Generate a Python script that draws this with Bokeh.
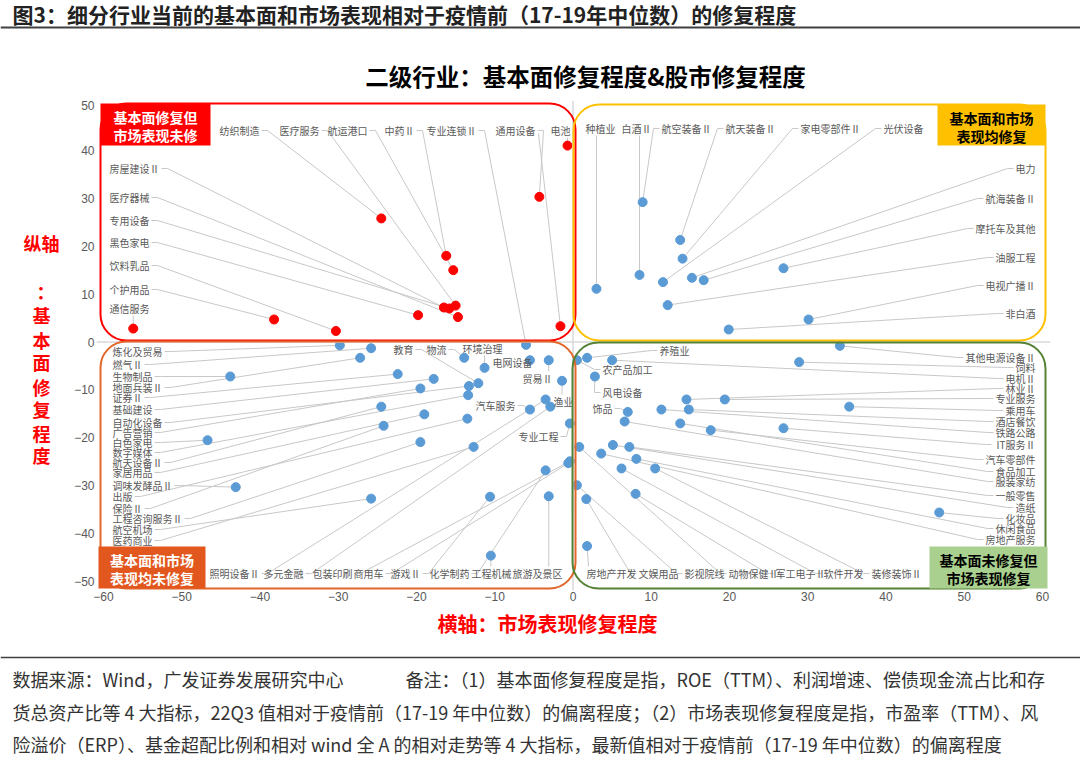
from bokeh.plotting import figure
from bokeh.layouts import column, row
from bokeh.models import ColumnDataSource, Label, BoxAnnotation, Span, FixedTicker
from bokeh.embed import file_html
from bokeh.resources import INLINE
from bokeh.core.properties import value

# ---------------- data ----------------
# top-left quadrant: fundamentals repaired, market not (red)
TL_NAMES = ["纺织制造", "医疗服务", "航运港口", "中药Ⅱ", "通用设备", "电池", "",
            "房屋建设Ⅱ", "医疗器械", "专用设备", "黑色家电", "饮料乳品", "个护用品", "通信服务"]
TL_X = [-24.5, -15.0, -15.3, -16.2, -4.3, -0.7, -1.6,
        -16.5, -14.7, -15.8, -19.8, -30.3, -38.2, -56.2]
TL_Y = [25.8, 7.6, 15.0, 18.0, 30.3, 41.0, 3.3,
        7.2, 5.2, 7.0, 5.6, 2.3, 4.7, 2.8]

# top-right quadrant: both repaired
TR_NAMES = ["种植业", "白酒Ⅱ", "航空装备Ⅱ", "航天装备Ⅱ", "家电零部件Ⅱ", "光伏设备",
            "电力", "航海装备Ⅱ", "摩托车及其他", "油服工程", "电视广播Ⅱ", "非白酒"]
TR_X = [3.0, 8.5, 8.9, 13.7, 14.0, 11.5, 15.2, 16.7, 26.9, 12.1, 30.1, 19.9]
TR_Y = [11.1, 14.0, 29.2, 21.3, 17.4, 12.5, 13.4, 12.9, 15.4, 7.7, 4.7, 2.6]

# bottom-left quadrant: neither repaired
BL_NAMES = ["炼化及贸易", "燃气Ⅱ", "生物制品", "地面兵装Ⅱ", "证券Ⅱ", "基础建设", "自动化设备",
            "广告营销", "白色家电", "数字媒体", "航天设备Ⅱ", "家居用品", "调味发酵品Ⅱ", "出版",
            "保险Ⅱ", "工程咨询服务Ⅱ", "航空机场", "医药商业",
            "教育", "物流", "环境治理", "电网设备", "贸易Ⅱ", "渔业", "汽车服务", "专业工程",
            "专业连锁Ⅱ",
            "照明设备Ⅱ", "多元金融", "包装印刷", "商用车", "游戏Ⅱ", "化学制药", "工程机械", "旅游及景区"]
BL_X = [-29.8, -25.8, -43.8, -27.2, -22.4, -17.8, -13.3,
        -19.5, -46.7, -13.4, -24.5, -19.0, -43.1, -13.5,
        -24.2, -19.5, -25.8, -12.7,
        -12.1, -13.9, -11.3, -5.5, -3.1, -1.4, -5.5, -0.4,
        -6.0,
        -3.5, -2.9, -0.4, -0.6, -10.6, -3.5, -10.5, -3.1]
BL_Y = [-0.7, -1.3, -7.2, -3.3, -6.7, -7.7, -9.2,
        -9.7, -20.5, -11.1, -13.5, -15.1, -30.3, -16.0,
        -17.5, -20.9, -32.7, -21.9,
        -8.6, -3.3, -5.4, -3.8, -3.8, -8.1, -14.1, -17.0,
        -0.6,
        -12.0, -13.5, -24.9, -25.3, -32.3, -26.8, -44.6, -32.2]

# bottom-right quadrant: market repaired, fundamentals not
BR_NAMES = ["养殖业", "农产品加工", "风电设备", "饰品",
            "其他电源设备Ⅱ", "饲料", "电机Ⅱ", "林业Ⅱ", "专业服务", "乘用车", "酒店餐饮", "铁路公路",
            "IT服务Ⅱ", "汽车零部件", "食品加工", "服装家纺", "一般零售", "造纸", "化妆品", "休闲食品",
            "房地产服务",
            "房地产开发", "文娱用品", "影视院线", "动物保健Ⅱ", "军工电子Ⅱ", "软件开发", "装修装饰Ⅱ"]
BR_X = [1.8, 0.5, 2.8, 7.0,
        34.1, 28.9, 5.0, 14.5, 19.4, 35.3, 14.8, 11.3,
        26.9, 17.6, 13.7, 6.6, 7.2, 5.1, 46.8, 8.1,
        3.6,
        1.8, 1.7, 0.5, 0.8, 8.0, 6.2, 10.5]
BR_Y = [-3.3, -3.8, -7.2, -14.6,
        -0.8, -4.2, -3.8, -12.0, -12.0, -13.5, -14.1, -14.1,
        -18.0, -18.4, -17.0, -16.6, -21.9, -21.5, -35.6, -24.4,
        -23.3,
        -42.6, -32.8, -29.9, -21.9, -31.7, -26.4, -26.4]

X_TICKS = [-60, -50, -40, -30, -20, -10, 0, 10, 20, 30, 40, 50, 60]
Y_TICKS = [-50, -40, -30, -20, -10, 0, 10, 20, 30, 40, 50]

HEADER = "图3：细分行业当前的基本面和市场表现相对于疫情前（17-19年中位数）的修复程度"
TITLE = "二级行业：基本面修复程度&股市修复程度"
X_TITLE = "横轴：市场表现修复程度"
Y_TITLE = ["纵轴", "：", "基", "本", "面", "修", "复", "程", "度"]
SOURCE = "数据来源：Wind，广发证券发展研究中心"
NOTE = ["备注：（1）基本面修复程度是指，ROE（TTM）、利润增速、偿债现金流占比和存",
        "货总资产比等 4 大指标，22Q3 值相对于疫情前（17-19 年中位数）的偏离程度；（2）市场表现修复程度是指，市盈率（TTM）、风",
        "险溢价（ERP）、基金超配比例和相对 wind 全 A 的相对走势等 4 大指标，最新值相对于疫情前（17-19 年中位数）的偏离程度"]
TAGS = [["基本面修复但", "市场表现未修"], ["基本面和市场", "表现均修复"],
        ["基本面和市场", "表现均未修复"], ["基本面未修复但", "市场表现修复"]]

# ---------------- layout (page pixels) ----------------
PW, PH = 1080, 758
FL, FT, FR, FB = 103, 102, 1042, 581          # where -60..60 / 50..-50 fall on the page
X0, X1, Y0, Y1 = -60, 60, -50, 50
PXX = (FR - FL) / (X1 - X0)
PXY = (FB - FT) / (Y1 - Y0)
TOP_H, MID_B, LEFT_W = 100, 606, 62
MX0, MX1, MY1 = 96, 1050, 590                  # main frame on the page


def dx(X):
    return X0 + (X - FL) / PXX


def dy(Y):
    return Y1 - (Y - FT) / PXY


LBL = {}
for n, X in [("纺织制造", 239), ("医疗服务", 299), ("航运港口", 347), ("中药Ⅱ", 399),
             ("专业连锁Ⅱ", 451), ("通用设备", 515), ("电池", 560)]:
    LBL[n] = (X, 130, "center")
LBL[""] = (538, 133, "none")
for n, Y in [("房屋建设Ⅱ", 168), ("医疗器械", 197), ("专用设备", 220), ("黑色家电", 242),
             ("饮料乳品", 265), ("个护用品", 289), ("通信服务", 308)]:
    LBL[n] = (109, Y, "left")
for n, X in [("种植业", 600), ("白酒Ⅱ", 636), ("航空装备Ⅱ", 686), ("航天装备Ⅱ", 750),
             ("家电零部件Ⅱ", 830), ("光伏设备", 903)]:
    LBL[n] = (X, 128, "center")
for n, Y in [("电力", 168), ("航海装备Ⅱ", 198), ("摩托车及其他", 228), ("油服工程", 257),
             ("电视广播Ⅱ", 285), ("非白酒", 313)]:
    LBL[n] = (1035, Y, "right")
for n, Y in [("炼化及贸易", 351), ("燃气Ⅱ", 364), ("生物制品", 376), ("地面兵装Ⅱ", 387),
             ("证券Ⅱ", 397), ("基础建设", 409), ("自动化设备", 422), ("广告营销", 432),
             ("白色家电", 442), ("数字媒体", 452), ("航天设备Ⅱ", 462), ("家居用品", 472),
             ("调味发酵品Ⅱ", 485), ("出版", 496), ("保险Ⅱ", 508), ("工程咨询服务Ⅱ", 518),
             ("航空机场", 529), ("医药商业", 540)]:
    LBL[n] = (112, Y, "left")
for n, X, Y in [("教育", 403, 349), ("物流", 436, 349), ("环境治理", 482, 348), ("电网设备", 512, 362),
                ("贸易Ⅱ", 537, 378), ("汽车服务", 495, 405), ("渔业", 563, 401), ("专业工程", 538, 436),
                ("养殖业", 674, 350), ("农产品加工", 627, 369), ("风电设备", 622, 392), ("饰品", 602, 408)]:
    LBL[n] = (X, Y, "center")
for n, X in [("照明设备Ⅱ", 234), ("多元金融", 283), ("包装印刷", 332), ("商用车", 368),
             ("游戏Ⅱ", 405), ("化学制药", 449), ("工程机械", 491), ("旅游及景区", 537),
             ("房地产开发", 611), ("文娱用品", 658), ("影视院线", 704), ("动物保健Ⅱ", 753),
             ("军工电子Ⅱ", 800), ("软件开发", 843), ("装修装饰Ⅱ", 896)]:
    LBL[n] = (X, 573, "center")
for n, Y in [("其他电源设备Ⅱ", 357), ("饲料", 367), ("电机Ⅱ", 378), ("林业Ⅱ", 388), ("专业服务", 398),
             ("乘用车", 410), ("酒店餐饮", 421), ("铁路公路", 432), ("IT服务Ⅱ", 444), ("汽车零部件", 459),
             ("食品加工", 471), ("服装家纺", 481), ("一般零售", 495), ("造纸", 507), ("化妆品", 518),
             ("休闲食品", 528), ("房地产服务", 539)]:
    LBL[n] = (1035, Y, "right")

LFS = 10  # point-label font px
CJK = "Noto Sans CJK SC"


def tw(s):
    return sum(LFS if ord(c) > 0x2000 else LFS * 0.6 for c in s)


def blank(w, h, xr, yr):
    f = figure(width=w, height=h, x_range=xr, y_range=yr, output_backend="svg",
               toolbar_location=None, x_axis_location=None, y_axis_location=None,
               min_border=0)
    f.outline_line_color = None
    f.grid.visible = False
    f.background_fill_color = "white"
    f.border_fill_color = "white"
    return f


def lab(f, X, Y, s, size, color, align="left", bold=True):
    f.add_layout(Label(x=X, y=Y, text=s, text_align=align, text_baseline="middle",
                       text_font=CJK, text_font_style="bold" if bold else "normal",
                       text_font_size=size, text_color=color))


# ---------------- top strip: header + chart title ----------------
top = blank(PW, TOP_H, (0, PW), (TOP_H, 0))
lab(top, 12, 13, HEADER, "21px", "#222222")
top.add_layout(Span(location=27, dimension="width", line_color="#404040", line_width=2))
lab(top, 585, 75, TITLE, "23.5px", "#000000", "center")

# ---------------- left strip: vertical y title ----------------
left = blank(LEFT_W, MID_B - TOP_H, (0, LEFT_W), (MID_B, TOP_H))
for s, Y, off in zip(Y_TITLE, [247, 297, 322, 347, 370, 396, 419, 443, 466], [0, 4, 0, 0, 0, 0, 0, 0, 0]):
    lab(left, 41 + off, Y, s, "18px", "#FF0000", "center")

# ---------------- main scatter ----------------
p = figure(width=PW - LEFT_W, height=MID_B - TOP_H, x_range=(dx(MX0), dx(MX1)), y_range=(dy(MY1), dy(TOP_H)),
           output_backend="svg", toolbar_location=None,
           min_border_left=MX0 - LEFT_W, min_border_right=PW - MX1,
           min_border_top=0, min_border_bottom=MID_B - MY1)
p.outline_line_color = None
p.grid.visible = False
p.background_fill_color = "white"
p.border_fill_color = "white"
for ax, ticks in ((p.xaxis, X_TICKS), (p.yaxis, Y_TICKS)):
    ax.ticker = FixedTicker(ticks=ticks)
    ax.axis_line_color = None
    ax.major_tick_line_color = None
    ax.minor_tick_line_color = None
    ax.major_tick_out = 0
    ax.major_tick_in = 0
    ax.minor_tick_out = 0
    ax.major_label_text_font = "Liberation Sans"
    ax.major_label_text_font_size = "12px"
    ax.major_label_text_color = "#595959"
p.xaxis.major_label_standoff = 1
p.yaxis.major_label_standoff = 2

p.add_layout(Span(location=0, dimension="width", line_color="#D9D9D9", line_width=1.5))
p.add_layout(Span(location=0, dimension="height", line_color="#D9D9D9", line_width=1.5))

xs_l, ys_l = [], []
groups = {"left": ([], [], []), "right": ([], [], []), "center": ([], [], [])}
all_pts = [(TL_NAMES, TL_X, TL_Y, "#FF0000"), (TR_NAMES, TR_X, TR_Y, "#5B9BD5"),
           (BL_NAMES, BL_X, BL_Y, "#5B9BD5"), (BR_NAMES, BR_X, BR_Y, "#5B9BD5")]
for names, xv, yv, col in all_pts:
    for n, x, y in zip(names, xv, yv):
        X, Y, al = LBL[n]
        PX = FL + (x - X0) * PXX
        PY = FT + (Y1 - y) * PXY
        if al == "none":
            xs_l.append([dx(X), x])
            ys_l.append([dy(Y), y])
            continue
        w = tw(n)
        x0 = X if al == "left" else (X - w if al == "right" else X - w / 2)
        x1 = x0 + w
        if PX > x1 + 3:
            s, t = (x1 + 2, Y), (x1 + 8, Y)
        elif PX < x0 - 3:
            s, t = (x0 - 2, Y), (x0 - 8, Y)
        else:
            sx = min(max(PX, x0 + 2), x1 - 2)
            s = (sx, Y + 7 if PY > Y else Y - 7)
            t = s
        xs_l.append([dx(s[0]), dx(t[0]), x])
        ys_l.append([dy(s[1]), dy(t[1]), y])
        g = groups[al]
        g[0].append(dx(X)); g[1].append(dy(Y)); g[2].append(n)

p.multi_line(xs_l, ys_l, line_color="#C8C8C8", line_width=1)

for names, xv, yv, col in all_pts:
    p.scatter(x=xv, y=yv, size=9, fill_color=col, line_color=col)

for al, (lx, ly, nm) in groups.items():
    src = ColumnDataSource(dict(x=lx, y=ly, t=nm))
    p.text(x="x", y="y", text="t", source=src, text_align=al, text_baseline="middle",
           text_font=value(CJK), text_font_size=f"{LFS}px", text_color="#595959")

# quadrant frames
for (l, r, t, b), col in [((100, 575, 103, 340), "#FF0000"), ((573, 1045, 104, 340), "#FFC000"),
                          ((100, 575, 341, 588), "#E2672A"), ((572, 1045, 342, 588), "#548235")]:
    p.add_layout(BoxAnnotation(left=dx(l), right=dx(r), top=dy(t), bottom=dy(b),
                               fill_alpha=0, line_color=col, line_alpha=1, line_width=2,
                               border_radius=26))

# quadrant tags
for (l, r, t, b), fill, tc, lines in zip(
        [(100, 210, 103, 145), (937, 1045, 104, 145), (98, 205, 546, 588), (929, 1047, 546, 588)],
        ["#FF0000", "#FFC000", "#E2571E", "#A9D08E"],
        ["white", "black", "white", "black"], TAGS):
    p.add_layout(BoxAnnotation(left=dx(l), right=dx(r), top=dy(t), bottom=dy(b),
                               fill_color=fill, fill_alpha=1, line_color=None))
    cx = (l + r) / 2
    for i, s in enumerate(lines):
        lab(p, dx(cx), dy(t + 13 + 18 * i), s, "14px", tc, "center")

# ---------------- bottom strip: x title + notes ----------------
bot = blank(PW, PH - MID_B, (0, PW), (PH, MID_B))
lab(bot, 437, 623, X_TITLE, "20px", "#FF0000")
bot.add_layout(Span(location=657, dimension="width", line_color="#404040", line_width=1.6))
FOOT = "#333333"
lab(bot, 12, 678, SOURCE, "18px", FOOT, bold=False)
for (X, Y), s in zip([(405, 678), (12, 711), (12, 743)], NOTE):
    lab(bot, X, Y, s, "18px", FOOT, bold=False)

layout = column(top, row(left, p, spacing=0), bot, spacing=0)
open("out.html", "w").write(file_html(layout, INLINE, title="chart"))
